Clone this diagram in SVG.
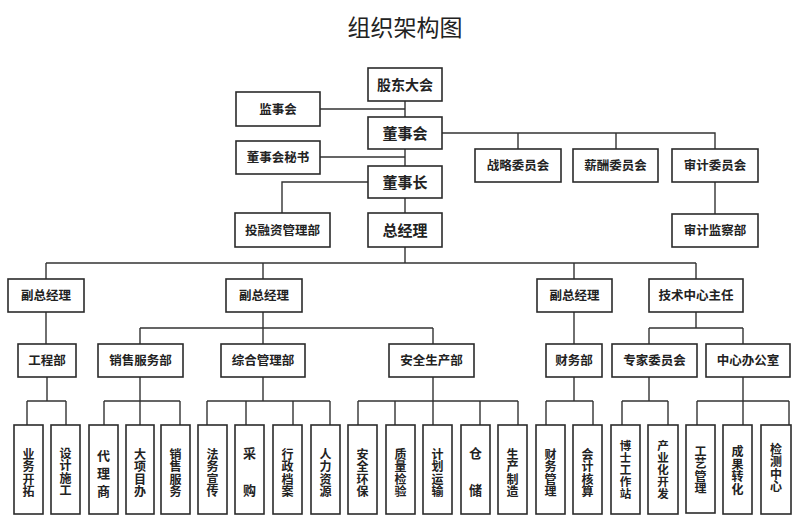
<svg xmlns="http://www.w3.org/2000/svg" width="800" height="523" viewBox="0 0 800 523">
<style>
.box{fill:#fff;stroke:#2b2b2b;stroke-width:1.6}
.t{font-family:"Noto Sans CJK SC","Noto Sans",sans-serif;font-size:12.5px;font-weight:bold;fill:#222;text-anchor:middle}
.big{font-size:15px}
.c{writing-mode:vertical-rl;font-size:12px}
.c3{writing-mode:vertical-rl;font-size:13px}
.c5{writing-mode:vertical-rl;font-size:11.5px}
.title{font-family:"Noto Sans CJK SC","Noto Sans",sans-serif;font-size:23px;fill:#222;text-anchor:middle}
#connectors path{stroke:#333;stroke-width:1.4;fill:none}
</style>
<rect width="800" height="523" fill="#fff"/>
<text class="title" x="405" y="36">组织架构图</text>
<g id="connectors">
<path d="M405,101V117M405,149V166M405,198V213"/>
<path d="M320,109H405M320,157H405"/>
<path d="M442,133H715V149M518,133V149M616,133V149"/>
<path d="M715,182V214"/>
<path d="M368,182H282V213"/>
<path d="M405,247V263M46,263H696M46,263V279M263,263V279M574,263V279M696,263V279"/>
<path d="M46,312V344"/>
<path d="M263,312V328M140,328H433M140,328V344M263,328V344M433,328V344"/>
<path d="M574,312V344"/>
<path d="M696,312V328M649,328H743M649,328V344M743,328V344"/>
<path d="M47,377V401M27,401H66M27,401V425M66,401V425"/>
<path d="M140,377V401M104,401H180M104,401V425M140,401V425M180,401V425"/>
<path d="M263,377V401M207,401H330M207,401V425M246,401V425M293,401V425M330,401V425"/>
<path d="M433,377V401M358,401H518M358,401V425M395,401V425M433,401V425M480,401V425M518,401V425"/>
<path d="M574,377V401M546,401H593M546,401V425M593,401V425"/>
<path d="M649,377V401M622,401H668M622,401V425M668,401V425"/>
<path d="M743,377V401M697,401H789M697,401V425M743,401V425M789,401V425"/>
</g>
<g id="n-gudong"><rect class="box" x="368" y="68" width="74" height="33"/><text class="t" style="font-size:14px" x="405" y="89.5">股东大会</text></g>
<g id="n-jianshi"><rect class="box" x="236" y="92" width="84" height="34"/><text class="t" x="278" y="113.5">监事会</text></g>
<g id="n-dongshihui"><rect class="box" x="368" y="117" width="74" height="32"/><text class="t big" x="405" y="138.5">董事会</text></g>
<g id="n-mishu"><rect class="box" x="236" y="141" width="84" height="33"/><text class="t" x="278" y="162">董事会秘书</text></g>
<g id="n-dongshizhang"><rect class="box" x="368" y="166" width="74" height="32"/><text class="t big" x="405" y="187.5">董事长</text></g>
<g id="n-tourongzi"><rect class="box" x="235" y="213" width="95" height="34"/><text class="t" x="282.5" y="234.5">投融资管理部</text></g>
<g id="n-zongjingli"><rect class="box" x="368" y="213" width="74" height="34"/><text class="t big" x="405" y="235.5">总经理</text></g>
<g id="n-zhanlue"><rect class="box" x="475" y="149" width="86" height="33"/><text class="t" x="518" y="170">战略委员会</text></g>
<g id="n-xinchou"><rect class="box" x="573" y="149" width="85" height="33"/><text class="t" x="615.5" y="170">薪酬委员会</text></g>
<g id="n-shenji"><rect class="box" x="672" y="149" width="86" height="33"/><text class="t" x="715" y="170">审计委员会</text></g>
<g id="n-jiancha"><rect class="box" x="672" y="214" width="86" height="33"/><text class="t" x="715" y="235">审计监察部</text></g>
<g id="n-fu1"><rect class="box" x="8" y="279" width="76" height="33"/><text class="t" x="46" y="300">副总经理</text></g>
<g id="n-fu2"><rect class="box" x="226" y="279" width="76" height="33"/><text class="t" x="264" y="300">副总经理</text></g>
<g id="n-fu3"><rect class="box" x="537" y="279" width="75" height="33"/><text class="t" x="574.5" y="300">副总经理</text></g>
<g id="n-jishu"><rect class="box" x="649" y="279" width="94" height="33"/><text class="t" x="696" y="300">技术中心主任</text></g>
<g id="n-gongcheng"><rect class="box" x="18" y="344" width="58" height="33"/><text class="t" x="47" y="365">工程部</text></g>
<g id="n-xiaoshou"><rect class="box" x="98" y="344" width="85" height="33"/><text class="t" x="140.5" y="365">销售服务部</text></g>
<g id="n-zonghe"><rect class="box" x="221" y="344" width="84" height="33"/><text class="t" x="263" y="365">综合管理部</text></g>
<g id="n-anquan"><rect class="box" x="389" y="344" width="85" height="33"/><text class="t" x="431.5" y="365">安全生产部</text></g>
<g id="n-caiwu"><rect class="box" x="546" y="344" width="56" height="33"/><text class="t" x="574" y="365">财务部</text></g>
<g id="n-zhuanjia"><rect class="box" x="612" y="344" width="85" height="33"/><text class="t" x="654.5" y="365">专家委员会</text></g>
<g id="n-zhongxin"><rect class="box" x="706" y="344" width="84" height="33"/><text class="t" x="748" y="365">中心办公室</text></g>
<g id="l-yewu"><rect class="box" x="14" y="425" width="29" height="89"/><text class="t c" x="28.5" y="454">业</text><text class="t c" x="28.5" y="466.5">务</text><text class="t c" x="28.5" y="479">开</text><text class="t c" x="28.5" y="491.5">拓</text></g>
<g id="l-sheji"><rect class="box" x="51" y="425" width="29" height="89"/><text class="t c" x="65.5" y="453">设</text><text class="t c" x="65.5" y="465.5">计</text><text class="t c" x="65.5" y="478">施</text><text class="t c" x="65.5" y="490.5">工</text></g>
<g id="l-daili"><rect class="box" x="89" y="425" width="29" height="89"/><text class="t c3" x="103.5" y="455">代</text><text class="t c3" x="103.5" y="473">理</text><text class="t c3" x="103.5" y="491">商</text></g>
<g id="l-daxiang"><rect class="box" x="126" y="425" width="28" height="89"/><text class="t c" x="140" y="454">大</text><text class="t c" x="140" y="466.5">项</text><text class="t c" x="140" y="479">目</text><text class="t c" x="140" y="491.5">办</text></g>
<g id="l-xiaoshou"><rect class="box" x="161" y="425" width="29" height="89"/><text class="t c" x="175.5" y="454">销</text><text class="t c" x="175.5" y="466.5">售</text><text class="t c" x="175.5" y="479">服</text><text class="t c" x="175.5" y="491.5">务</text></g>
<g id="l-fawu"><rect class="box" x="198" y="425" width="29" height="89"/><text class="t c" x="212.5" y="454">法</text><text class="t c" x="212.5" y="466.5">务</text><text class="t c" x="212.5" y="479">宣</text><text class="t c" x="212.5" y="491.5">传</text></g>
<g id="l-caigou"><rect class="box" x="235" y="425" width="29" height="89"/><text class="t c3" x="249.5" y="453.5">采</text><text class="t c3" x="249.5" y="490.5">购</text></g>
<g id="l-xingzheng"><rect class="box" x="273" y="425" width="29" height="89"/><text class="t c" x="287.5" y="454">行</text><text class="t c" x="287.5" y="466.5">政</text><text class="t c" x="287.5" y="479">档</text><text class="t c" x="287.5" y="491.5">案</text></g>
<g id="l-renli"><rect class="box" x="311" y="425" width="29" height="89"/><text class="t c" x="325.5" y="454">人</text><text class="t c" x="325.5" y="466.5">力</text><text class="t c" x="325.5" y="479">资</text><text class="t c" x="325.5" y="491.5">源</text></g>
<g id="l-anquan"><rect class="box" x="348" y="425" width="29" height="89"/><text class="t c" x="362.5" y="454">安</text><text class="t c" x="362.5" y="466.5">全</text><text class="t c" x="362.5" y="479">环</text><text class="t c" x="362.5" y="491.5">保</text></g>
<g id="l-zhiliang"><rect class="box" x="386" y="425" width="29" height="89"/><text class="t c" x="400.5" y="454">质</text><text class="t c" x="400.5" y="466.5">量</text><text class="t c" x="400.5" y="479">检</text><text class="t c" x="400.5" y="491.5">验</text></g>
<g id="l-jihua"><rect class="box" x="423" y="425" width="29" height="89"/><text class="t c" x="437.5" y="454">计</text><text class="t c" x="437.5" y="466.5">划</text><text class="t c" x="437.5" y="479">运</text><text class="t c" x="437.5" y="491.5">输</text></g>
<g id="l-cangchu"><rect class="box" x="461" y="425" width="29" height="89"/><text class="t c3" x="475.5" y="453.5">仓</text><text class="t c3" x="475.5" y="490.5">储</text></g>
<g id="l-shengchan"><rect class="box" x="498" y="425" width="29" height="89"/><text class="t c" x="512.5" y="454">生</text><text class="t c" x="512.5" y="466.5">产</text><text class="t c" x="512.5" y="479">制</text><text class="t c" x="512.5" y="491.5">造</text></g>
<g id="l-caiwu"><rect class="box" x="536" y="425" width="29" height="89"/><text class="t c" x="550.5" y="454">财</text><text class="t c" x="550.5" y="466.5">务</text><text class="t c" x="550.5" y="479">管</text><text class="t c" x="550.5" y="491.5">理</text></g>
<g id="l-kuaiji"><rect class="box" x="573" y="425" width="29" height="89"/><text class="t c" x="587.5" y="454">会</text><text class="t c" x="587.5" y="466.5">计</text><text class="t c" x="587.5" y="479">核</text><text class="t c" x="587.5" y="491.5">算</text></g>
<g id="l-boshi"><rect class="box" x="611" y="425" width="29" height="89"/><text class="t c5" x="625.5" y="446">博</text><text class="t c5" x="625.5" y="458">士</text><text class="t c5" x="625.5" y="470">工</text><text class="t c5" x="625.5" y="482">作</text><text class="t c5" x="625.5" y="494">站</text></g>
<g id="l-chanye"><rect class="box" x="648" y="425" width="30" height="89"/><text class="t c5" x="663" y="446">产</text><text class="t c5" x="663" y="458">业</text><text class="t c5" x="663" y="470">化</text><text class="t c5" x="663" y="482">开</text><text class="t c5" x="663" y="494">发</text></g>
<g id="l-gongyi"><rect class="box" x="686" y="425" width="29" height="88"/><text class="t c" x="700.5" y="451">工</text><text class="t c" x="700.5" y="463.5">艺</text><text class="t c" x="700.5" y="476">管</text><text class="t c" x="700.5" y="488.5">理</text></g>
<g id="l-chengguo"><rect class="box" x="723" y="425" width="29" height="89"/><text class="t c" x="737.5" y="451.5">成</text><text class="t c" x="737.5" y="464">果</text><text class="t c" x="737.5" y="476.5">转</text><text class="t c" x="737.5" y="489">化</text></g>
<g id="l-jiance"><rect class="box" x="761" y="425" width="30" height="89"/><text class="t c" x="776" y="449">检</text><text class="t c" x="776" y="461.5">测</text><text class="t c" x="776" y="474">中</text><text class="t c" x="776" y="486.5">心</text></g>
</svg>
